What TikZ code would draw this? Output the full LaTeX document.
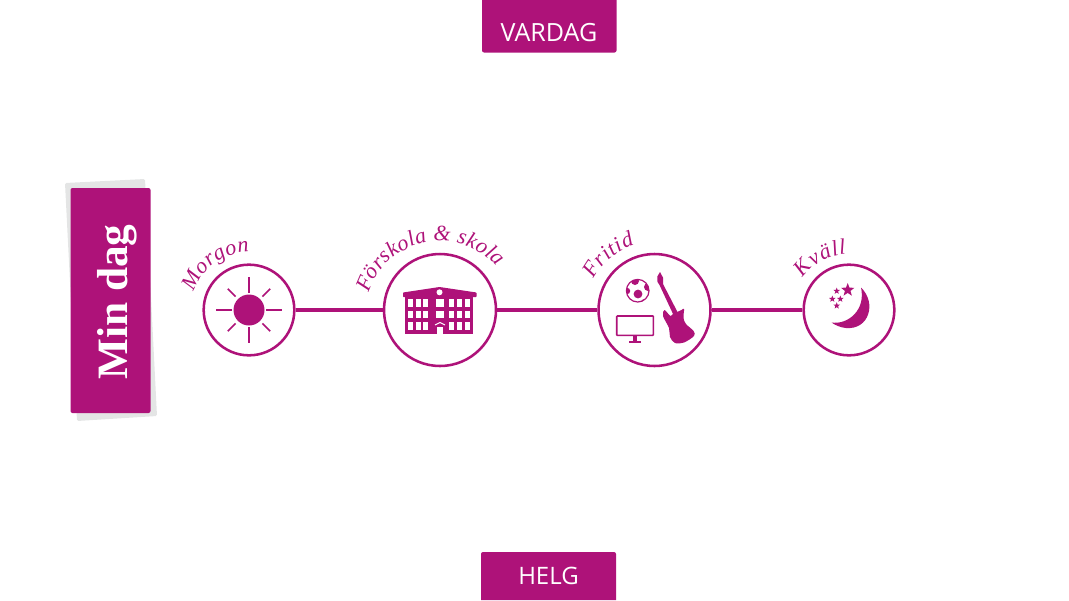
\documentclass[tikz,border=0pt]{standalone}
\usepackage{fontspec}
\usetikzlibrary{shapes.geometric,decorations.text}
\setmainfont{Liberation Serif}
\newfontfamily\boxfont{Open Sans}
\definecolor{minlila}{RGB}{174,18,121}
\definecolor{skugga}{RGB}{228,229,229}
\newcommand{\arcfont}{\itshape\fontsize{16.5}{18}\selectfont\color{minlila}}
\tikzset{
  station/.style={circle,draw=minlila,line width=1.9pt,fill=white,inner sep=0pt},
  link/.style={draw=minlila,line width=3pt},
  tab/.style={fill=minlila,rounded corners=1.5pt},
  tabtext/.style={text=white,font=\boxfont\fontsize{18}{20}\selectfont},
  window/.style={fill=white},
  starmark/.style={star,star points=5,star point ratio=2.4,fill=minlila,inner sep=0pt},
  arclabel/.style={decorate,decoration={text along path,text align=fit to path,text={|\arcfont|#1}}}
}
\begin{document}
\begin{tikzpicture}[x=0.75pt,y=0.75pt]
\useasboundingbox (0,0) rectangle (1069,-600);

\fill[tab] (482,0) -- (482,-52.5) -- (616.5,-52.5) -- (616.5,0);
\node[tabtext,font=\boxfont\fontsize{18.8}{20}\selectfont] (vardag) at (549,-33) {VARDAG};
\fill[tab] (481,-600) -- (481,-552) -- (616,-552) -- (616,-600);
\node[tabtext] (helg) at (548.5,-576) {HELG};

\fill[skugga,rounded corners=1pt] (65,-183) -- (145,-179) -- (157,-416) -- (77,-421) -- cycle;
\node[fill=minlila,rounded corners=1.5pt,minimum width=60pt,minimum height=168.75pt] (mindag) at (110.5,-300.5) {};
\node[rotate=90,text=white,font=\bfseries\fontsize{32.5}{34}\selectfont] (mindagtext) at (117,-302) {Min dag};

\node[station,minimum size=68pt] (morgon) at (249,-310) {};
\node[station,minimum size=84pt] (skola) at (440,-310) {};
\node[station,minimum size=84pt] (fritid) at (654.5,-310) {};
\node[station,minimum size=68pt] (kvall) at (849,-310) {};
\draw[link] (morgon) -- (skola);
\draw[link] (skola) -- (fritid);
\draw[link] (fritid) -- (kvall);

\path[arclabel={Morgon}] (249,-310) ++(162:58) arc[start angle=162,end angle=90,radius=58];
\path[arclabel={Förskola {\&} skola}] (440,-316) ++(162:75) arc[start angle=162,end angle=41,radius=75];
\path[arclabel={Fritid}] (654.5,-310) ++(153:68) arc[start angle=153,end angle=107,radius=68];
\path[arclabel={Kväll}] (849,-310) ++(145:56) arc[start angle=145,end angle=93,radius=56];

% sol
\fill[minlila] (morgon.center) circle (15.5);
\foreach \a in {0,90,180,270}
  \draw[minlila,line width=1.2pt] (morgon.center) ++(\a:17) -- ++(\a:16);
\foreach \a in {45,135,225,315}
  \draw[minlila,line width=1.2pt] (morgon.center) ++(\a:19) -- ++(\a:11);

% skola
\fill[minlila,rounded corners=0.5pt] (403,-292.5) -- (439.5,-287) -- (476.5,-292.5) -- (476.5,-297) -- (403,-297) -- cycle;
\fill[minlila] (405,-297) rectangle (473,-334);
\fill[window] (439.5,-292.3) circle (3);
\foreach \x in {408,415.5,423,449,456.5,464.5} {
  \foreach \y in {299,310.5,322}
    \fill[window] (\x,-\y) rectangle ++(5,-7.5);
}
\foreach \y in {299,310.5}
  \fill[window] (436,-\y) rectangle ++(8,-7.5);
\fill[window] (436.8,-326.5) rectangle (443.2,-334);
\draw[white,line width=0.7pt] (435,-325) -- (440,-322.5) -- (445,-325);

% fotboll
\begin{scope}
\clip (637.7,-290.7) circle (11.3);
\fill[minlila] (638,-294) circle (4.4);
\fill[minlila] (635,-281) circle (4);
\fill[minlila] (648,-287) circle (4);
\fill[minlila] (627,-291) circle (3.2);
\fill[minlila] (644,-302) circle (2.8);
\fill[minlila] (629,-301) circle (2.6);
\end{scope}
\draw[minlila,line width=0.9pt] (637.7,-290.7) circle (11.3);

% skarm
\draw[minlila,line width=1.2pt,rounded corners=0.5pt] (616.7,-316) rectangle (653.3,-335.3);
\fill[minlila] (633.2,-335.3) rectangle (636.8,-341);
\fill[minlila] (629.3,-341) rectangle (640.7,-343);

% gitarr
\fill[minlila] (657.3,-276.5) -- (660,-272) -- (663.2,-278) -- (663,-284) -- (678,-313) -- (673.5,-315) -- (659.5,-285) -- (657.5,-282) -- cycle;
\fill[minlila] plot[smooth cycle,tension=0.55] coordinates {(673.5,-313) (677,-312) (681.5,-310) (684,-309) (683.5,-318) (686,-324) (693.5,-331) (694,-336) (684,-342.5) (675,-343) (670,-337) (669,-328) (663,-316) (664.5,-310) (670.5,-316)};

% mane
\fill[minlila] (861,-287.5) .. controls (877,-303) and (869,-330) .. (846,-328) .. controls (840,-327.5) and (835,-325) .. (831.5,-322.5) .. controls (848,-325) and (866,-310) .. (861,-287.5) -- cycle;
\node[starmark,minimum size=10.5pt] (bigstar) at (847.7,-290) {};
\node[starmark,minimum size=5.2pt] (starA) at (836.7,-291) {};
\node[starmark,minimum size=5.2pt] (starB) at (832.3,-299) {};
\node[starmark,minimum size=5.2pt] (starC) at (840.3,-299) {};
\node[starmark,minimum size=5.2pt] (starD) at (836.7,-305.7) {};
\end{tikzpicture}
\end{document}
